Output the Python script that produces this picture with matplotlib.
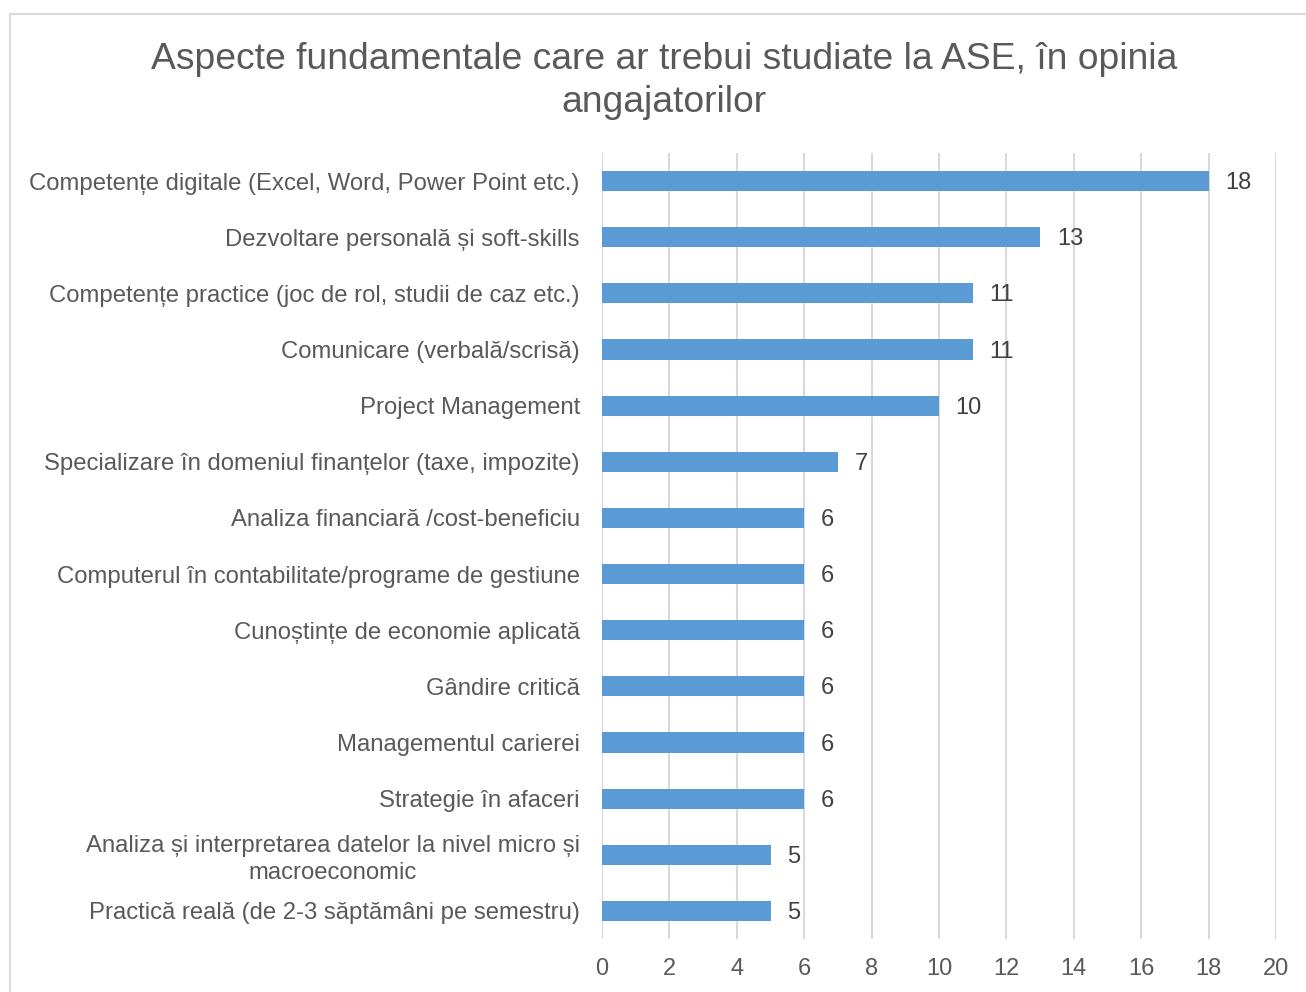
import matplotlib.pyplot as plt
from matplotlib.patches import Rectangle

plt.rcParams['font.family'] = ['Liberation Sans', 'DejaVu Sans']

categorii = [
    "Competențe digitale (Excel, Word, Power Point etc.)",
    "Dezvoltare personală și soft-skills",
    "Competențe practice (joc de rol, studii de caz etc.)",
    "Comunicare (verbală/scrisă)",
    "Project Management",
    "Specializare în domeniul finanțelor (taxe, impozite)",
    "Analiza financiară /cost-beneficiu",
    "Computerul în contabilitate/programe de gestiune",
    "Cunoștințe de economie aplicată",
    "Gândire critică",
    "Managementul carierei",
    "Strategie în afaceri",
    "Analiza și interpretarea datelor la nivel micro și\nmacroeconomic",
    "Practică reală (de 2-3 săptămâni pe semestru)",
]
valori = [18, 13, 11, 11, 10, 7, 6, 6, 6, 6, 6, 6, 5, 5]
x_ticks = list(range(0, 21, 2))

text_col = "#595959"
bar_col = "#5B9BD5"
grid_col = "#D9D9D9"

fig = plt.figure(figsize=(13.06, 9.92), dpi=100)
fig.patches.append(Rectangle((10 / 1306, -0.1), 1.2, 1 - 14 / 992 + 0.1,
                             transform=fig.transFigure, fill=False,
                             edgecolor="#D9D9D9", linewidth=1.5))

ax = fig.add_axes([602 / 1306, 1 - 939 / 992, 674 / 1306, 786 / 992])

pos = list(range(len(categorii)))
ax.barh(pos, valori, height=0.36, color=bar_col, zorder=3)
for p, v in zip(pos, valori):
    ax.annotate(str(v), (v, p), xytext=(12, -1.5), textcoords="offset points",
                ha="left", va="center", fontsize=17, color="#404040")

ax.set_ylim(len(categorii) - 0.5, -0.5)
ax.set_xlim(0, 20)
ax.set_yticks(pos)
ax.set_yticklabels(categorii, fontsize=17.2, color=text_col,
                   multialignment="center", linespacing=1.3)
ax.set_xticks(x_ticks)
ax.set_xticklabels([str(t) for t in x_ticks], fontsize=17, color=text_col)
ax.tick_params(axis="y", length=0, pad=16)
ax.tick_params(axis="x", length=0, pad=14)
ax.grid(axis="x", color=grid_col, linewidth=1.5, zorder=0)
for s in ax.spines.values():
    s.set_visible(False)
ax.axvline(0, color=grid_col, linewidth=1.5, zorder=1)

fig.text(664 / 1306, 1 - 81 / 992,
         "Aspecte fundamentale care ar trebui studiate la ASE, în opinia\nangajatorilor",
         ha="center", va="center", fontsize=26.8, color=text_col, linespacing=1.32)

fig.savefig("out.png", dpi=100)
